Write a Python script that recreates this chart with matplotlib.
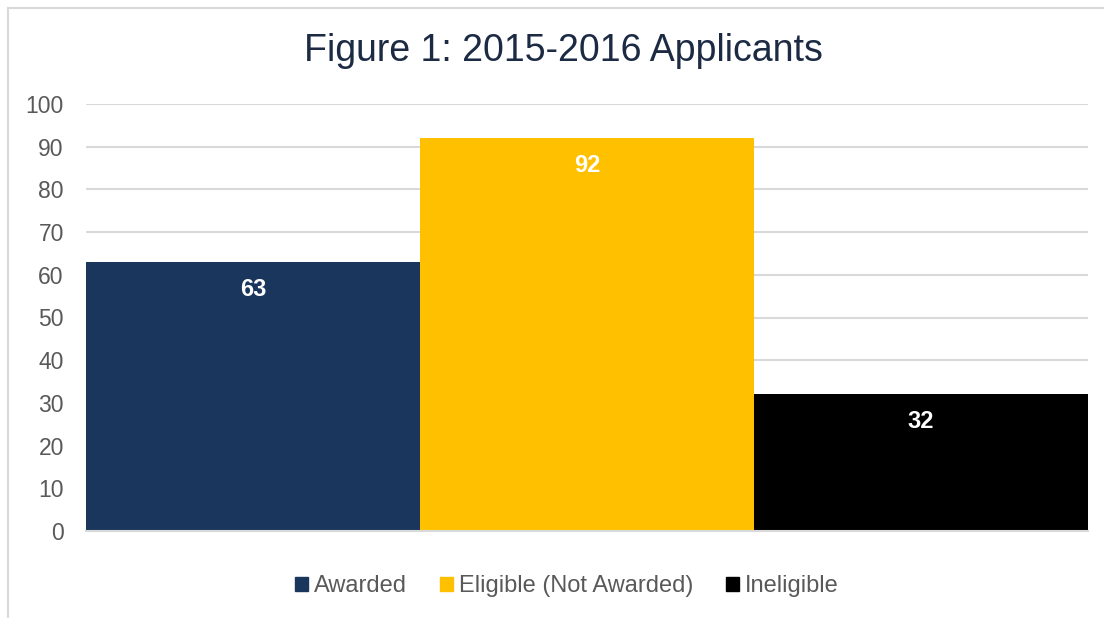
import matplotlib.pyplot as plt
from matplotlib.lines import Line2D
from matplotlib.patches import Patch

plt.rcParams['font.family'] = ['Liberation Sans', 'DejaVu Sans']

# data
categories = ['Awarded', 'Eligible (Not Awarded)', 'Ineligible']
values = [63, 92, 32]
colors = ['#1a365d', '#ffc000', '#000000']
yticks = [0, 10, 20, 30, 40, 50, 60, 70, 80, 90, 100]

fig = plt.figure(figsize=(11.04, 6.18), dpi=100)
ax = fig.add_axes([86/1104, 1-531/618, 1002/1104, 427/618])

x = range(len(values))
ax.bar(x, values, width=1.0, color=colors, zorder=3)
for i, v in enumerate(values):
    ax.annotate(str(v), (i, v), xytext=(0, -19.5), textcoords='offset points',
                ha='center', va='center', color='white', fontsize=17,
                fontweight='bold', zorder=4)

ax.set_xlim(-0.5, len(values)-0.5)
ax.set_ylim(0, 100)
ax.set_yticks(yticks)
ax.set_xticks([])
ax.tick_params(axis='y', length=0, labelsize=16.5, labelcolor='#595959', pad=16)
ax.grid(axis='y', color='#d9d9d9', linewidth=1.5, zorder=0)
for s in ['top', 'right', 'left']:
    ax.spines[s].set_visible(False)
ax.spines['bottom'].set_color('#d9d9d9')
ax.spines['bottom'].set_linewidth(1.5)
ax.spines['bottom'].set_zorder(5)

fig.text(563/1104, 1-51/618, 'Figure 1: 2015-2016 Applicants', ha='center', va='center',
         fontsize=27, color='#1c2a44')

handles = [Patch(color=c, label=l) for c, l in zip(colors, categories)]
fig.legend(handles=handles, loc='center', bbox_to_anchor=(567/1104, 1-586/618), ncol=3,
           frameon=False, fontsize=17, labelcolor='#595959', handlelength=0.55,
           handleheight=0.55, handletextpad=0.25, columnspacing=1.4)

# chart frame (partly cropped)
fig.add_artist(Line2D([8/1104, 8/1104], [0, 1-8/618], color='#d9d9d9', linewidth=1.5))
fig.add_artist(Line2D([8/1104, 1], [1-8/618, 1-8/618], color='#d9d9d9', linewidth=1.5))

fig.savefig('out.png', dpi=100)
